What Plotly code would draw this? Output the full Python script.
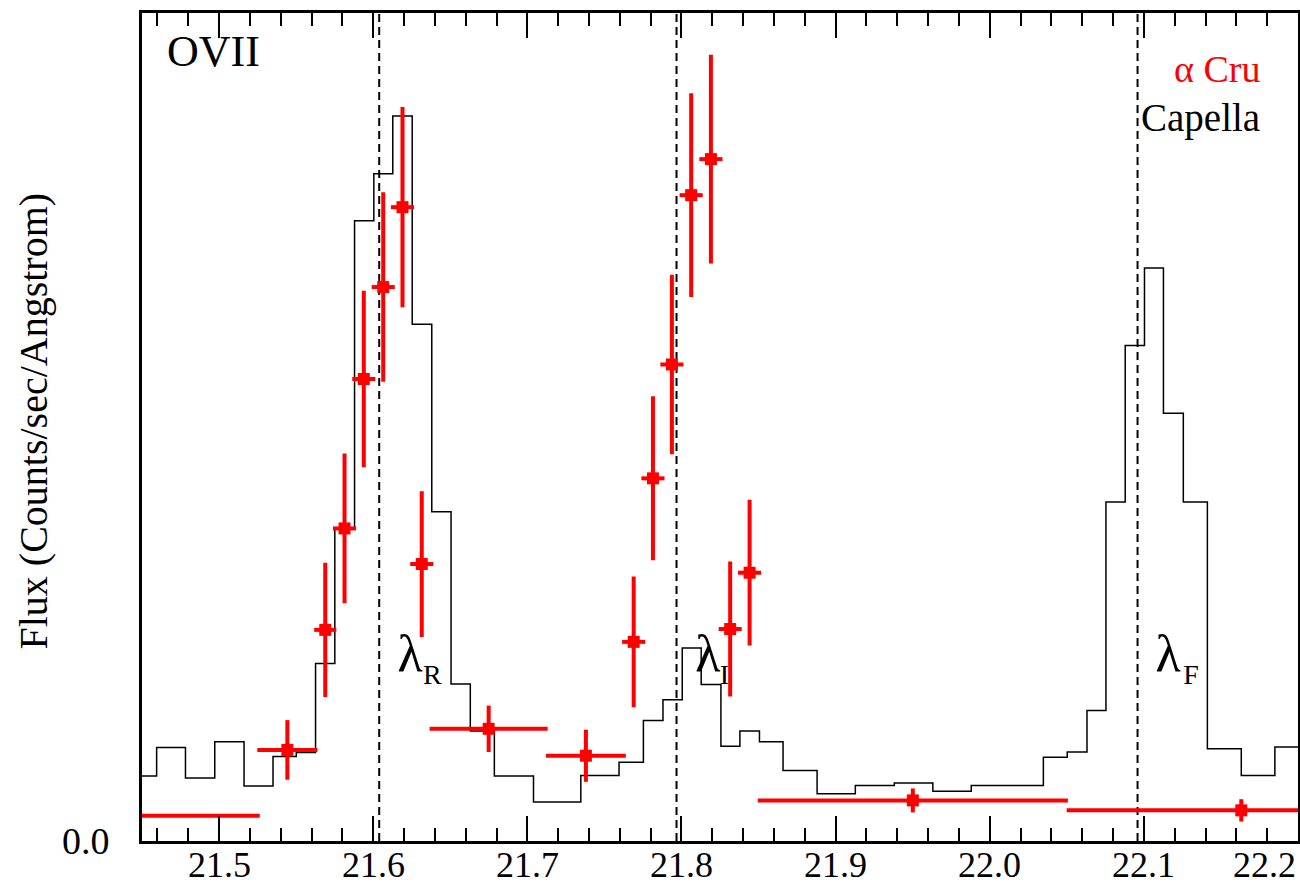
import plotly.graph_objects as go

# ---------------- data ----------------
# Capella (black histogram): bin edges in Angstrom and flux of each bin
capella_edges = [21.4500, 21.4595, 21.4782, 21.4972, 21.5162, 21.5350, 21.5501, 21.5626,
                 21.5751, 21.5879, 21.6004, 21.6127, 21.6253, 21.6380, 21.6505, 21.6630,
                 21.6786, 21.7040, 21.7347, 21.7595, 21.7753, 21.7880, 21.8005, 21.8128,
                 21.8256, 21.8379, 21.8506, 21.8659, 21.8880, 21.9128, 21.9381, 21.9631,
                 21.9880, 22.0348, 22.0503, 22.0631, 22.0754, 22.0879, 22.1004, 22.1127,
                 22.1256, 22.1412, 22.1632, 22.1850, 22.2000]
capella_flux = [0.157, 0.226, 0.152, 0.240, 0.133, 0.204, 0.214, 0.429, 0.755, 1.498,
                1.612, 1.751, 1.248, 0.795, 0.379, 0.266, 0.157, 0.094, 0.158, 0.190,
                0.291, 0.341, 0.466, 0.378, 0.229, 0.266, 0.240, 0.170, 0.114, 0.134,
                0.140, 0.120, 0.134, 0.202, 0.215, 0.315, 0.819, 1.197, 1.384, 1.033,
                0.819, 0.223, 0.158, 0.227]

# alpha Cru (red points with error bars)
acru_wl = [21.4400, 21.5443, 21.5689, 21.5814, 21.5939, 21.6065, 21.6190, 21.6315,
           21.6749, 21.7380, 21.7690, 21.7815, 21.7938, 21.8063, 21.8191, 21.8316,
           21.8442, 21.9501, 22.1632]
acru_wl_err = [0.0864, 0.0195, 0.0072, 0.0075, 0.0075, 0.0075, 0.0075, 0.0075,
               0.0383, 0.0259, 0.0075, 0.0075, 0.0075, 0.0075, 0.0075, 0.0075,
               0.0075, 0.1006, 0.1133]
acru_flux = [0.061, 0.220, 0.510, 0.755, 1.116, 1.338, 1.531, 0.669, 0.271, 0.206,
             0.481, 0.876, 1.151, 1.560, 1.647, 0.512, 0.648, 0.098, 0.074]
acru_flux_err = [0.030, 0.072, 0.162, 0.181, 0.213, 0.229, 0.242, 0.176, 0.056, 0.063,
                 0.158, 0.198, 0.217, 0.246, 0.252, 0.163, 0.176, 0.029, 0.027]

# OVII triplet rest wavelengths (dashed lines) and their labels
line_wl = [21.6039, 21.7968, 22.0959]
line_sub = ["R", "I", "F"]

x_ticks = [21.5, 21.6, 21.7, 21.8, 21.9, 22.0, 22.1, 22.2]
x_ticktext = ["21.5", "21.6", "21.7", "21.8", "21.9", "22.0", "22.1", "22.2"]

FONT = "Liberation Serif"
X_RANGE = [21.45, 22.2]
Y_RANGE = [0, 2.0]

fig = go.Figure()

# Capella step histogram
fig.add_trace(go.Scatter(
    x=capella_edges, y=capella_flux + [capella_flux[-1]],
    mode="lines", line=dict(color="black", width=1.5, shape="hv"),
    showlegend=False, hoverinfo="skip"))

# lambda labels (drawn below the red points)
lam_dx = [0.0200, 0.0204, 0.0198]
sub_dx = [0.0345, 0.0310, 0.0347]
fig.add_trace(go.Scatter(
    x=[w + d for w, d in zip(line_wl, lam_dx)], y=[0.443] * 3,
    mode="text", text=["λ"] * 3, textposition="middle center",
    textfont=dict(family=FONT, size=52, color="black"),
    showlegend=False, hoverinfo="skip"))
fig.add_trace(go.Scatter(
    x=[w + d for w, d in zip(line_wl, sub_dx)], y=[0.397] * 3,
    mode="text", text=line_sub, textposition="middle center",
    textfont=dict(family=FONT, size=28, color="black"),
    showlegend=False, hoverinfo="skip"))

# alpha Cru points
fig.add_trace(go.Scatter(
    x=acru_wl, y=acru_flux, mode="markers",
    marker=dict(symbol="square", size=12, color="red"),
    error_x=dict(type="data", array=acru_wl_err, color="red", thickness=4, width=0),
    error_y=dict(type="data", array=acru_flux_err, color="red", thickness=4, width=0),
    showlegend=False, hoverinfo="skip"))

# dashed line markers
for w in line_wl:
    fig.add_shape(type="line", xref="x", yref="paper", x0=w, x1=w, y0=0, y1=1,
                  line=dict(color="black", width=2, dash="8px,5px"), layer="below")

annotations = [
    dict(text="OVII", xref="paper", yref="paper", x=0.0200, y=0.953,
         xanchor="left", yanchor="middle", showarrow=False,
         font=dict(family=FONT, size=44, color="black")),
    dict(text="α Cru", xref="paper", yref="paper", x=0.969, y=0.932,
         xanchor="right", yanchor="middle", showarrow=False,
         font=dict(family=FONT, size=38, color="red")),
    dict(text="Capella", xref="paper", yref="paper", x=0.969, y=0.873,
         xanchor="right", yanchor="middle", showarrow=False,
         font=dict(family=FONT, size=39, color="black")),
    dict(text="Flux (Counts/sec/Angstrom)", xref="paper", yref="paper",
         x=-0.094, y=0.507, xanchor="center", yanchor="middle", textangle=-90,
         showarrow=False, font=dict(family=FONT, size=40, color="black")),
]
# x tick labels (the last one is kept inside the page, right-aligned)
for v, t in zip(x_ticks, x_ticktext):
    annotations.append(dict(
        text=t, xref="x", yref="paper", x=v, y=0,
        xanchor="right" if v >= X_RANGE[1] else "center",
        yanchor="bottom", yshift=-46, showarrow=False,
        font=dict(family=FONT, size=36, color="black")))

fig.update_layout(
    width=1300, height=888,
    margin=dict(l=142, r=2, t=13, b=47, autoexpand=False),
    paper_bgcolor="white", plot_bgcolor="white",
    font=dict(family=FONT, size=36, color="black"),
    annotations=annotations,
    showlegend=False,
)
fig.update_xaxes(
    range=X_RANGE, tickmode="array", tickvals=x_ticks[:-1], showticklabels=False,
    ticks="inside", ticklen=25, tickwidth=2, tickcolor="black",
    minor=dict(tickmode="linear", tick0=21.5, dtick=0.02, ticks="inside",
               ticklen=13, tickwidth=2, tickcolor="black"),
    showline=True, linewidth=3, linecolor="black", mirror="ticks",
    showgrid=False, zeroline=False, automargin=False)
fig.update_yaxes(
    range=Y_RANGE, tickmode="array", tickvals=[0], ticktext=["0.0"],
    ticks="", showline=True, linewidth=3, linecolor="black", mirror=True,
    showgrid=False, zeroline=False, ticklabelstandoff=22, automargin=False,
    tickfont=dict(family=FONT, size=38, color="black"))

fig.write_html("out.html")
